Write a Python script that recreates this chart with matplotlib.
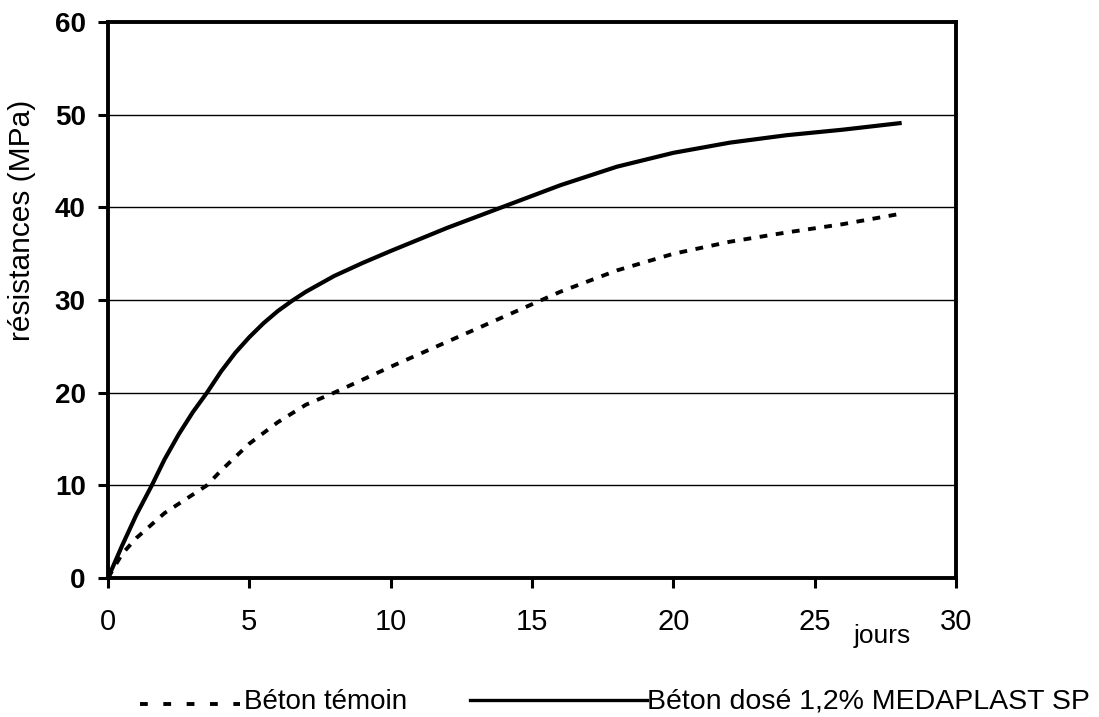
import matplotlib.pyplot as plt
from matplotlib.lines import Line2D

plt.rcParams['font.family'] = ['Liberation Sans', 'DejaVu Sans']

# Béton témoin (pointillés)
jours_t = [0, 0.5, 1, 2, 3, 3.5, 4, 5, 6, 7, 8, 10, 12, 14, 16, 18, 20, 22, 24, 26, 28]
res_t = [0, 2.6, 4.3, 7.0, 9.0, 10.0, 11.6, 14.5, 16.8, 18.7, 20.0, 22.8, 25.5, 28.2, 30.9, 33.2, 35.0, 36.3, 37.3, 38.2, 39.3]

# Béton dosé 1,2% MEDAPLAST SP (trait plein)
jours_s = [0, 0.5, 1, 1.55, 2, 2.5, 3, 3.5, 4, 4.5, 5, 5.5, 6, 6.5, 7, 8, 9, 10, 12, 14,
           16, 18, 20, 22, 24, 26, 28]
res_s = [0, 3.5, 6.8, 10.0, 12.8, 15.5, 17.9, 20.0, 22.3, 24.3, 26.0, 27.5, 28.8, 29.9, 30.9,
         32.6, 34.0, 35.3, 37.8, 40.1, 42.4, 44.4, 45.9, 47.0, 47.8, 48.4, 49.1]

xticks = [0, 5, 10, 15, 20, 25, 30]
yticks = [0, 10, 20, 30, 40, 50, 60]

fig = plt.figure(figsize=(10.99, 7.17), dpi=100)
ax = fig.add_axes([0.0983, 0.194, 0.7717, 0.775])

for y in yticks[1:-1]:
    ax.axhline(y, color='black', lw=1.0, zorder=1)

ax.plot(jours_t, res_t, color='black', lw=2.8, linestyle=(0, (2, 2.2)), zorder=3)
ax.plot(jours_s, res_s, color='black', lw=3.0, zorder=3)

ax.set_xlim(0, 30)
ax.set_ylim(0, 60)
ax.set_xticks(xticks)
ax.set_yticks(yticks)
ax.set_xticklabels([str(v) for v in xticks], fontsize=21)
ax.set_yticklabels([str(v) for v in yticks], fontsize=20, fontweight='bold')
ax.tick_params(axis='both', direction='out', length=7, width=2.2, color='black')
ax.tick_params(axis='x', pad=15)
ax.tick_params(axis='y', pad=9)
for sp in ax.spines.values():
    sp.set_linewidth(2.8)

fig.text(22 / 1099, 1 - 220 / 717, 'résistances (MPa)', fontsize=21.5, rotation=90,
         ha='center', va='center')
fig.text(882 / 1099, 1 - 636 / 717, 'jours', fontsize=19, ha='center', va='center')

# legende
fig.add_artist(Line2D([140 / 1099, 240 / 1099], [1 - 704 / 717] * 2, color='black',
                      lw=2.8, linestyle=(0, (2, 4))))
fig.text(244 / 1099, 1 - 702 / 717, 'Béton témoin', fontsize=20, ha='left', va='center')
fig.add_artist(Line2D([470 / 1099, 647 / 1099], [1 - 700 / 717] * 2, color='black', lw=2.4))
fig.text(647 / 1099, 1 - 702 / 717, 'Béton dosé 1,2% MEDAPLAST SP', fontsize=20.5,
         ha='left', va='center')

fig.savefig('out.png', dpi=100)
